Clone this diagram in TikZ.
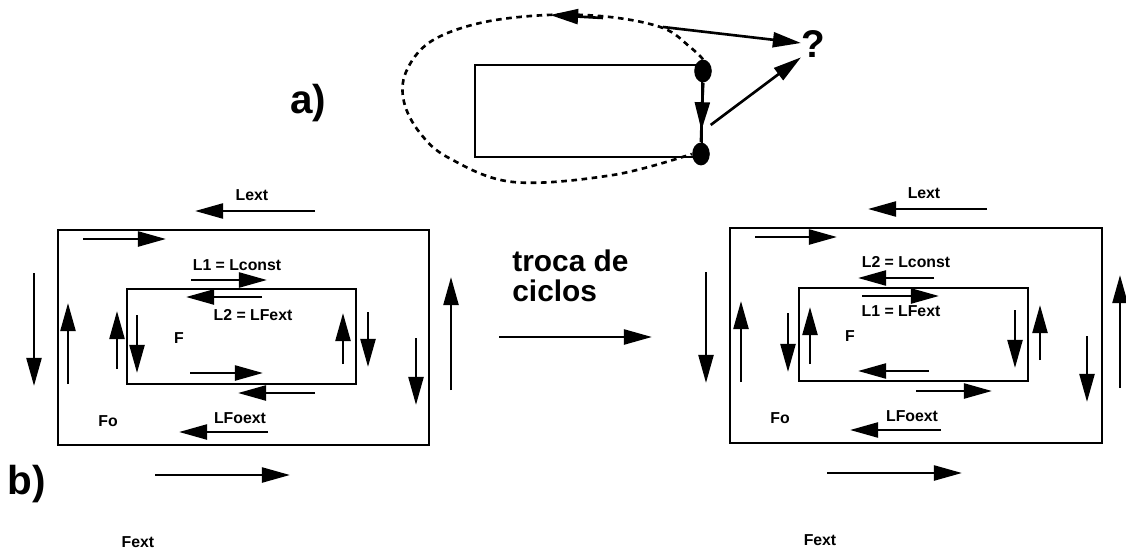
\documentclass[tikz,border=0pt]{standalone}
\usepackage{fontspec}
\setmainfont{Liberation Sans}
\usetikzlibrary{arrows.meta,shapes.geometric,calc}

\tikzset{
  arr/.style={line width=1.5pt, -{Triangle[length=16pt,width=8.5pt]}},
  box/.style={line width=1.6pt},
  lbl/.style={font=\bfseries\fontsize{9}{10}\selectfont, inner sep=0pt},
  big/.style={font=\bfseries\fontsize{23}{26}\selectfont, inner sep=0pt},
  dot/.style={ellipse, fill=black, inner sep=0pt, minimum width=10pt, minimum height=13pt}
}

\begin{document}
\begin{tikzpicture}[x=0.02cm, y=-0.02cm]
\useasboundingbox (0,0) rectangle (1126,551);

% a) single cycle
\node[big, anchor=base west] (la) at (290,113) {a)};
\draw[box] (475,65) rectangle (702,157);
\node[dot] (d1) at (703,71) {};
\node[dot] (d2) at (701,154) {};
\draw[box] (d1.south) -- (d2.north);
\draw[arr] (d1.south) -- ($(d1.south)!0.8!(d2.north)$);
\draw[line width=1.5pt, dash pattern=on 3.2pt off 2.6pt] plot[smooth, tension=0.6] coordinates
  {(d1.north) (690,47) (663,28) (610,17) (547,15) (480,23) (430,42) (406,72) (404,102) (420,133) (449,158) (513,182) (613,175) (d2.west)};
\draw[arr] (603,18) -- (550,15);
\node[font=\bfseries\fontsize{22}{24}\selectfont, inner sep=0pt, anchor=base west] (q) at (801,57) {?};
\draw[arr] (663,27) -- (q.west |- 0,43);
\draw[arr] ($(d1)!0.65!(d2) + (9,0)$) -- (q.south west);

% b) left
\node[big, anchor=base west] (lb) at (7,494) {b)};
\draw[box] (58,230) rectangle (429,445);
\draw[box] (127,289) rectangle (356,384);
\node[lbl] (lextL) at (252,195) {Lext};
\draw[arr] (315,211) -- (195,211);
\draw[arr] (83,239) -- (166,239);
\node[lbl] (l1L) at (237,265) {L1 = Lconst};
\draw[arr] (191,280) -- (267,280);
\draw[arr] (262,297) -- (186,297);
\node[lbl] (l2L) at (253,315) {L2 = LFext};
\node[lbl] (fL) at (179,338) {F};
\draw[arr] (34,273) -- (34,386);
\draw[arr] (68,384) -- (68,303);
\draw[arr] (117,369) -- (117,311);
\draw[arr] (137,315) -- (137,373);
\draw[arr] (343,364) -- (343,313);
\draw[arr] (368,312) -- (368,367);
\draw[arr] (416,338) -- (416,405);
\draw[arr] (451,390) -- (451,277);
\draw[arr] (190,373) -- (263,373);
\draw[arr] (315,393) -- (238,393);
\node[lbl] (lfoL) at (240,418) {LFoext};
\node[lbl] (foL) at (108,421) {Fo};
\draw[arr] (268,432) -- (179,432);
\draw[arr] (155,475) -- (290,475);
\node[lbl] (fextL) at (138,542) {Fext};

% exchange
\node[font=\bfseries\fontsize{17}{18}\selectfont, inner sep=0pt, anchor=base west] (tr1) at (512,271) {troca de};
\node[font=\bfseries\fontsize{17}{18}\selectfont, inner sep=0pt, anchor=base west] (tr2) at (512,301) {ciclos};
\draw[arr] (499,337) -- (652,337);

% b) right
\draw[box] (730,228) rectangle (1102,443);
\draw[box] (799,288) rectangle (1028,381);
\node[lbl] (lextR) at (924,193) {Lext};
\draw[arr] (987,209) -- (868,209);
\draw[arr] (755,237) -- (837,237);
\node[lbl] (l2R) at (906,262) {L2 = Lconst};
\draw[arr] (934,278) -- (858,278);
\draw[arr] (862,296) -- (939,296);
\node[lbl] (l1R) at (901,311) {L1 = LFext};
\node[lbl] (fR) at (850,336) {F};
\draw[arr] (706,272) -- (706,383);
\draw[arr] (741,382) -- (741,301);
\draw[arr] (788,313) -- (788,372);
\draw[arr] (810,364) -- (810,307);
\draw[arr] (1015,310) -- (1015,368);
\draw[arr] (1040,360) -- (1040,305);
\draw[arr] (1087,336) -- (1087,402);
\draw[arr] (1120,388) -- (1120,275);
\draw[arr] (929,371) -- (858,371);
\draw[arr] (916,391) -- (992,391);
\node[lbl] (lfoR) at (912,416) {LFoext};
\node[lbl] (foR) at (780,418) {Fo};
\draw[arr] (941,430) -- (850,430);
\draw[arr] (827,473) -- (962,473);
\node[lbl] (fextR) at (820,540) {Fext};
\end{tikzpicture}
\end{document}
